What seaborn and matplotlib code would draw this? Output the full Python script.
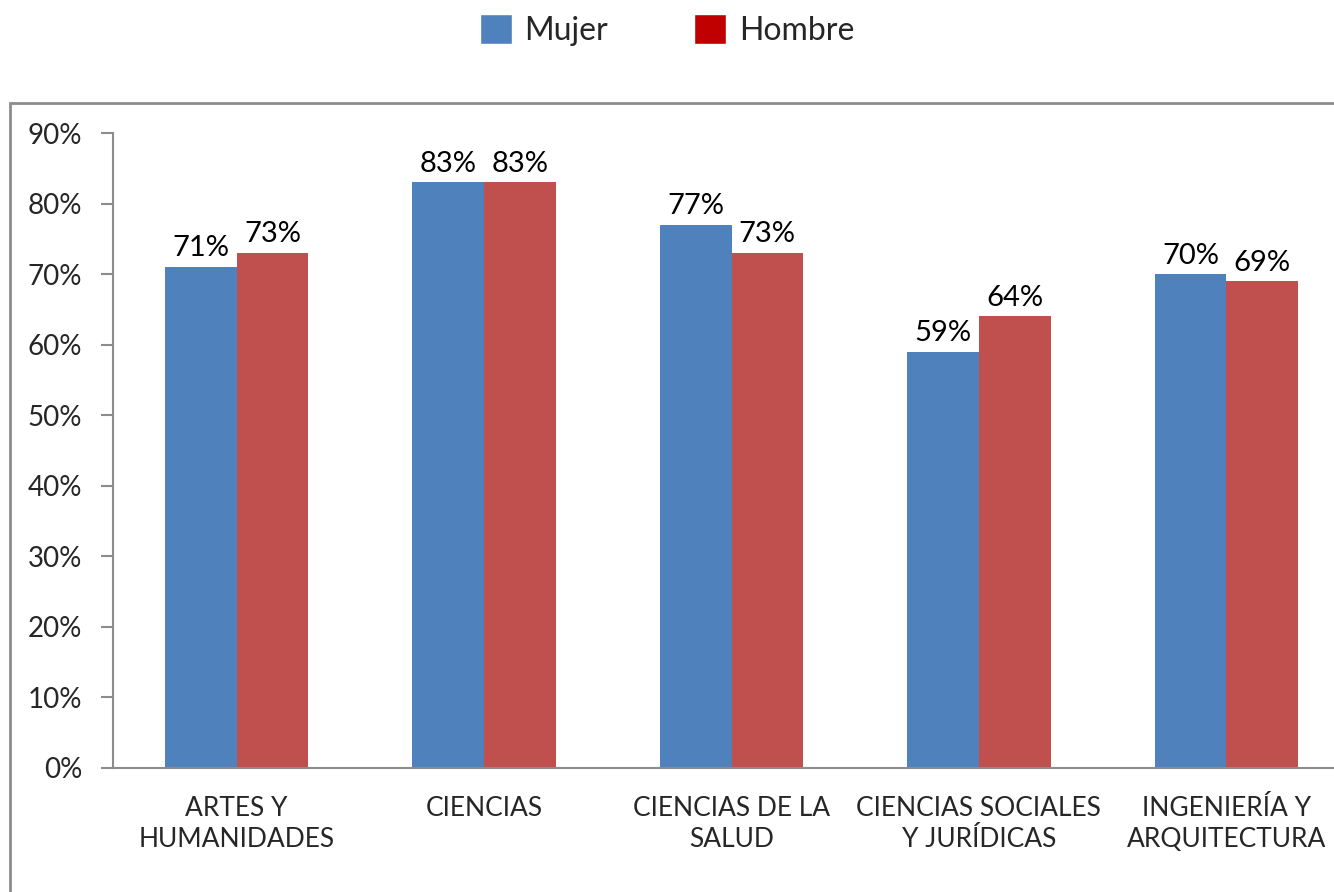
import matplotlib
matplotlib.use("Agg")
import matplotlib.pyplot as plt
import seaborn as sns
import pandas as pd
import numpy as np
from matplotlib.patches import Patch, Rectangle

# Datos del gráfico
areas = ["ARTES Y\nHUMANIDADES", "CIENCIAS", "CIENCIAS DE LA\nSALUD",
         "CIENCIAS SOCIALES\nY JURÍDICAS", "INGENIERÍA Y\nARQUITECTURA"]
mujer = [0.71, 0.83, 0.77, 0.59, 0.70]
hombre = [0.73, 0.83, 0.73, 0.64, 0.69]
series = ["Mujer", "Hombre"]

df = pd.DataFrame({
    "area": areas * 2,
    "valor": mujer + hombre,
    "sexo": [series[0]] * len(areas) + [series[1]] * len(areas),
})

sns.set_theme(style="white")
plt.rcParams['font.family'] = ['Lato', 'DejaVu Sans']

fig = plt.figure(figsize=(13.34, 8.92), dpi=100)
ax = fig.add_axes([113 / 1334, 124 / 892, 1237 / 1334, 635 / 892])

# Marco gris del gráfico (se sale por la derecha y abajo)
fig.patches.append(Rectangle((10 / 1334, -0.1), 1.2, 789 / 892 + 0.1,
                             transform=fig.transFigure, fill=False,
                             edgecolor="#8c8c8c", linewidth=2, zorder=0))

sns.barplot(data=df, x="area", y="valor", hue="sexo",
            palette=["#4F81BD", "#C0504D"], width=0.58,
            saturation=1, linewidth=0, ax=ax, legend=False)

for cont in ax.containers:
    ax.bar_label(cont, labels=[f"{v * 100:.0f}%" for v in cont.datavalues],
                 padding=4, fontsize=21, color="black")

ax.set_ylim(0, 0.9)
ax.set_xlim(-0.5, len(areas) - 0.5)
ax.set_yticks(np.arange(0, 0.91, 0.1))
ax.set_yticklabels([f"{v}%" for v in range(0, 91, 10)], fontsize=20)
ax.set_xticks(range(len(areas)))
ax.set_xticklabels(areas, fontsize=19, linespacing=1.3)
ax.set_xticks(np.arange(-0.5, len(areas), 1), minor=True)
ax.tick_params(axis="x", which="major", length=0, pad=20)
ax.tick_params(axis="x", which="minor", length=9, width=1.5, color="#8c8c8c")
ax.tick_params(axis="y", length=9, width=1.5, color="#8c8c8c", pad=13,
               left=True, direction="out")
ax.set_xlabel("")
ax.set_ylabel("")

for side in ["top", "right"]:
    ax.spines[side].set_visible(False)
for side in ["left", "bottom"]:
    ax.spines[side].set_color("#8c8c8c")
    ax.spines[side].set_linewidth(1.5)

handles = [Patch(facecolor="#4F81BD"), Patch(facecolor="#C00000")]
fig.legend(handles, series, loc="center", bbox_to_anchor=(0.5, 1 - 30 / 892),
           ncol=2, frameon=False, fontsize=23, handlelength=1.0, handleheight=1.05,
           handletextpad=0.4, columnspacing=2.7)

fig.savefig("out.png", dpi=100)
